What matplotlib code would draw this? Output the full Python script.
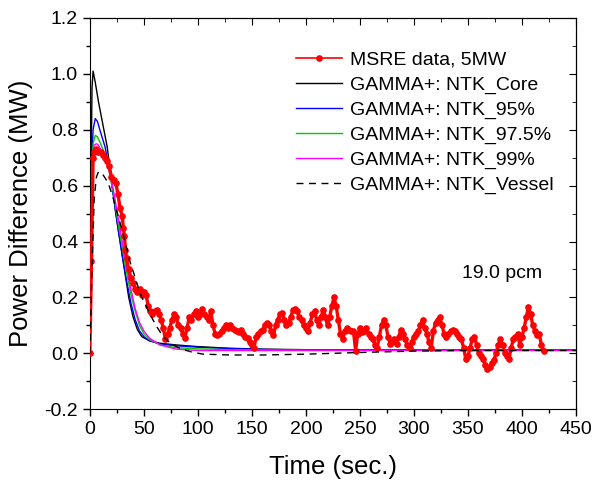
import matplotlib
matplotlib.use("Agg")
import matplotlib.pyplot as plt
from matplotlib.ticker import MultipleLocator

plt.rcParams['font.family'] = ['Liberation Sans', 'DejaVu Sans']

# MSRE measured data
t_msre = [0, 1.5, 3, 4, 6, 8, 10, 12, 14, 16, 18, 20, 22, 24, 26, 28, 30, 31, 32, 33, 34, 36, 38,
          40, 42, 44, 46, 48, 50, 52, 54, 56, 58, 60, 62, 64, 66, 68, 70, 72, 74, 76, 78, 80,
          82, 84, 86, 88, 90, 92, 94, 96, 98, 100, 102, 104, 106, 108, 110, 112, 114, 116, 118,
          120, 122, 124, 126, 128, 130, 132, 134, 136, 138, 140, 142, 144, 146, 148, 150, 152,
          154, 156, 158, 160, 162, 164, 166, 168, 170, 172, 174, 176, 178, 180, 182, 184, 186,
          188, 190, 192, 194, 196, 198, 200, 202, 204, 206, 208, 210, 212, 214, 216, 218, 220,
          222, 224, 226, 228, 230, 232, 234, 236, 238, 240, 242, 244, 246, 248, 250, 252, 254,
          256, 258, 260, 262, 264, 266, 268, 270, 272, 274, 276, 278, 280, 282, 284, 286, 288,
          290, 292, 294, 296, 298, 300, 302, 304, 306, 308, 310, 312, 314, 316, 318, 320, 322,
          324, 326, 328, 330, 332, 334, 336, 338, 340, 342, 344, 346, 348, 350, 352, 354, 356,
          358, 360, 362, 364, 366, 368, 370, 372, 374, 376, 378, 380, 382, 384, 386, 388, 390,
          392, 394, 396, 398, 400, 402, 404, 406, 408, 410, 412, 414, 416, 418, 420]
p_msre = [0.00, 0.33, 0.70, 0.72, 0.73, 0.72, 0.72, 0.71, 0.70, 0.69, 0.67, 0.63, 0.62, 0.61,
          0.57, 0.52, 0.49, 0.45, 0.42, 0.37, 0.34, 0.30, 0.27, 0.25, 0.23, 0.22, 0.23, 0.21,
          0.22, 0.21, 0.17, 0.15, 0.14, 0.15, 0.155, 0.14, 0.12, 0.09, 0.05, 0.07, 0.09, 0.12,
          0.14, 0.13, 0.10, 0.09, 0.07, 0.055, 0.09, 0.13, 0.12, 0.14, 0.15, 0.13, 0.14, 0.16,
          0.14, 0.13, 0.12, 0.15, 0.10, 0.07, 0.065, 0.07, 0.08, 0.09, 0.10, 0.09, 0.10, 0.09,
          0.085, 0.08, 0.075, 0.085, 0.07, 0.06, 0.055, 0.04, 0.03, 0.02, 0.06, 0.07, 0.08,
          0.085, 0.10, 0.11, 0.10, 0.08, 0.065, 0.10, 0.12, 0.14, 0.145, 0.12, 0.10, 0.11, 0.13,
          0.155, 0.16, 0.15, 0.13, 0.12, 0.10, 0.09, 0.08, 0.11, 0.14, 0.15, 0.12, 0.10, 0.13,
          0.155, 0.13, 0.10, 0.13, 0.17, 0.20, 0.17, 0.12, 0.07, 0.05, 0.08, 0.09, 0.085, 0.08,
          0.08, 0.01, 0.07, 0.09, 0.075, 0.08, 0.09, 0.07, 0.06, 0.05, 0.03, 0.02, 0.06, 0.10,
          0.12, 0.10, 0.06, 0.035, 0.04, 0.05, 0.035, 0.06, 0.085, 0.07, 0.05, 0.03, 0.02, 0.04,
          0.06, 0.07, 0.08, 0.10, 0.12, 0.09, 0.07, 0.04, 0.02, 0.08, 0.11, 0.12, 0.13, 0.10,
          0.07, 0.06, 0.07, 0.08, 0.085, 0.08, 0.07, 0.06, 0.05, 0.02, -0.02, -0.01, 0.02, 0.05,
          0.06, 0.03, 0.00, -0.01, -0.02, -0.04, -0.055, -0.05, -0.035, -0.025, 0.00, 0.03, 0.05,
          0.03, 0.00, -0.01, -0.02, 0.02, 0.05, 0.06, 0.07, 0.03, 0.06, 0.09, 0.13, 0.165, 0.14,
          0.10, 0.08, 0.065, 0.07, 0.03, 0.01]

# GAMMA+ simulations
t_core = [0, 1, 2, 3, 5, 8, 12, 16, 20, 24, 28, 32, 36, 40, 44, 48, 55, 65, 80, 100, 130, 160,
          200, 300, 450]
p_core = [0.0, 0.60, 0.95, 1.01, 0.97, 0.90, 0.82, 0.74, 0.62, 0.50, 0.40, 0.30, 0.20, 0.13,
          0.085, 0.06, 0.045, 0.036, 0.030, 0.024, 0.018, 0.015, 0.013, 0.012, 0.012]

t_95 = [0, 1, 2, 3, 5, 7, 10, 14, 18, 22, 26, 30, 34, 38, 42, 46, 50, 55, 65, 80, 100, 130,
        160, 200, 450]
p_95 = [0.0, 0.40, 0.70, 0.80, 0.84, 0.83, 0.79, 0.74, 0.66, 0.56, 0.45, 0.35, 0.26, 0.18,
        0.12, 0.08, 0.06, 0.045, 0.033, 0.027, 0.022, 0.017, 0.014, 0.012, 0.012]

t_975 = [0, 1, 2, 3, 5, 7, 10, 14, 18, 22, 26, 30, 34, 38, 42, 46, 50, 55, 65, 80, 100, 130,
         160, 200, 450]
p_975 = [0.0, 0.38, 0.66, 0.75, 0.78, 0.775, 0.75, 0.71, 0.65, 0.57, 0.47, 0.38, 0.29, 0.21,
         0.15, 0.10, 0.07, 0.05, 0.03, 0.02, 0.016, 0.013, 0.012, 0.011, 0.011]

t_99 = [0, 1, 2, 3, 4, 6, 8, 10, 14, 18, 22, 26, 30, 34, 38, 42, 46, 50, 55, 65, 80, 100,
        130, 200, 450]
p_99 = [0.0, 0.36, 0.63, 0.72, 0.745, 0.75, 0.745, 0.73, 0.70, 0.65, 0.58, 0.49, 0.40, 0.31,
        0.23, 0.16, 0.11, 0.08, 0.055, 0.03, 0.015, 0.01, 0.01, 0.01, 0.01]

t_vessel = [0, 2, 4, 6, 8, 12, 17, 22, 27, 32, 37, 42, 47, 52, 57, 62, 67, 72, 78, 85, 95,
            105, 130, 160, 200, 250, 300, 350, 450]
p_vessel = [0.0, 0.30, 0.55, 0.63, 0.65, 0.64, 0.61, 0.55, 0.48, 0.41, 0.33, 0.27, 0.21, 0.17,
            0.13, 0.095, 0.065, 0.045, 0.028, 0.015, 0.004, -0.003, -0.006, -0.006, -0.003,
            0.003, 0.008, 0.01, 0.01]

fig = plt.figure(figsize=(5.95, 4.86), dpi=100)
ax = fig.add_axes([0.151, 0.158, 0.817, 0.805])

ax.plot(t_msre, p_msre, color='#ff0000', lw=2.4, marker='o', ms=3.8,
        label='MSRE data, 5MW', zorder=3)
ax.plot(t_core, p_core, color='black', lw=1.0, label='GAMMA+: NTK_Core')
ax.plot(t_95, p_95, color='#0000ff', lw=1.0, label='GAMMA+: NTK_95%')
ax.plot(t_975, p_975, color='#00cc00', lw=1.0, label='GAMMA+: NTK_97.5%')
ax.plot(t_99, p_99, color='#ff00ff', lw=1.0, label='GAMMA+: NTK_99%')
ax.plot(t_vessel, p_vessel, color='black', lw=1.0, ls=(0, (5, 4)),
        label='GAMMA+: NTK_Vessel', zorder=4)

ax.set_xlim(0, 450)
ax.set_ylim(-0.2, 1.2)
ax.xaxis.set_major_locator(MultipleLocator(50))
ax.xaxis.set_minor_locator(MultipleLocator(25))
ax.yaxis.set_major_locator(MultipleLocator(0.2))
ax.yaxis.set_minor_locator(MultipleLocator(0.1))
ax.yaxis.set_major_formatter(matplotlib.ticker.FormatStrFormatter('%.1f'))
ax.tick_params(which='both', direction='out', labelsize=14, width=1)
ax.tick_params(which='major', length=5)
ax.tick_params(which='minor', length=3)

# inward ticks on top and right
top = ax.secondary_xaxis('top')
top.set_xticks(range(0, 451, 50))
top.xaxis.set_minor_locator(MultipleLocator(25))
top.tick_params(which='both', direction='in', labeltop=False)
top.tick_params(which='major', length=5)
top.tick_params(which='minor', length=3)
right = ax.secondary_yaxis('right')
right.yaxis.set_major_locator(MultipleLocator(0.2))
right.yaxis.set_minor_locator(MultipleLocator(0.1))
right.tick_params(which='both', direction='in', labelright=False)
right.tick_params(which='major', length=5)
right.tick_params(which='minor', length=3)

ax.set_xlabel('Time (sec.)', fontsize=18.5, labelpad=12)
ax.set_ylabel('Power Difference (MW)', fontsize=18.5, labelpad=8)

ax.text(382, 0.27, '19.0 pcm', fontsize=14, ha='center')

leg = ax.legend(loc='upper right', frameon=False, fontsize=14, handlelength=2.4,
                labelspacing=0.37, handletextpad=0.4, bbox_to_anchor=(0.99, 0.96))
leg.get_lines()[0].set_linewidth(1.2)

fig.savefig('out.png', dpi=100)
